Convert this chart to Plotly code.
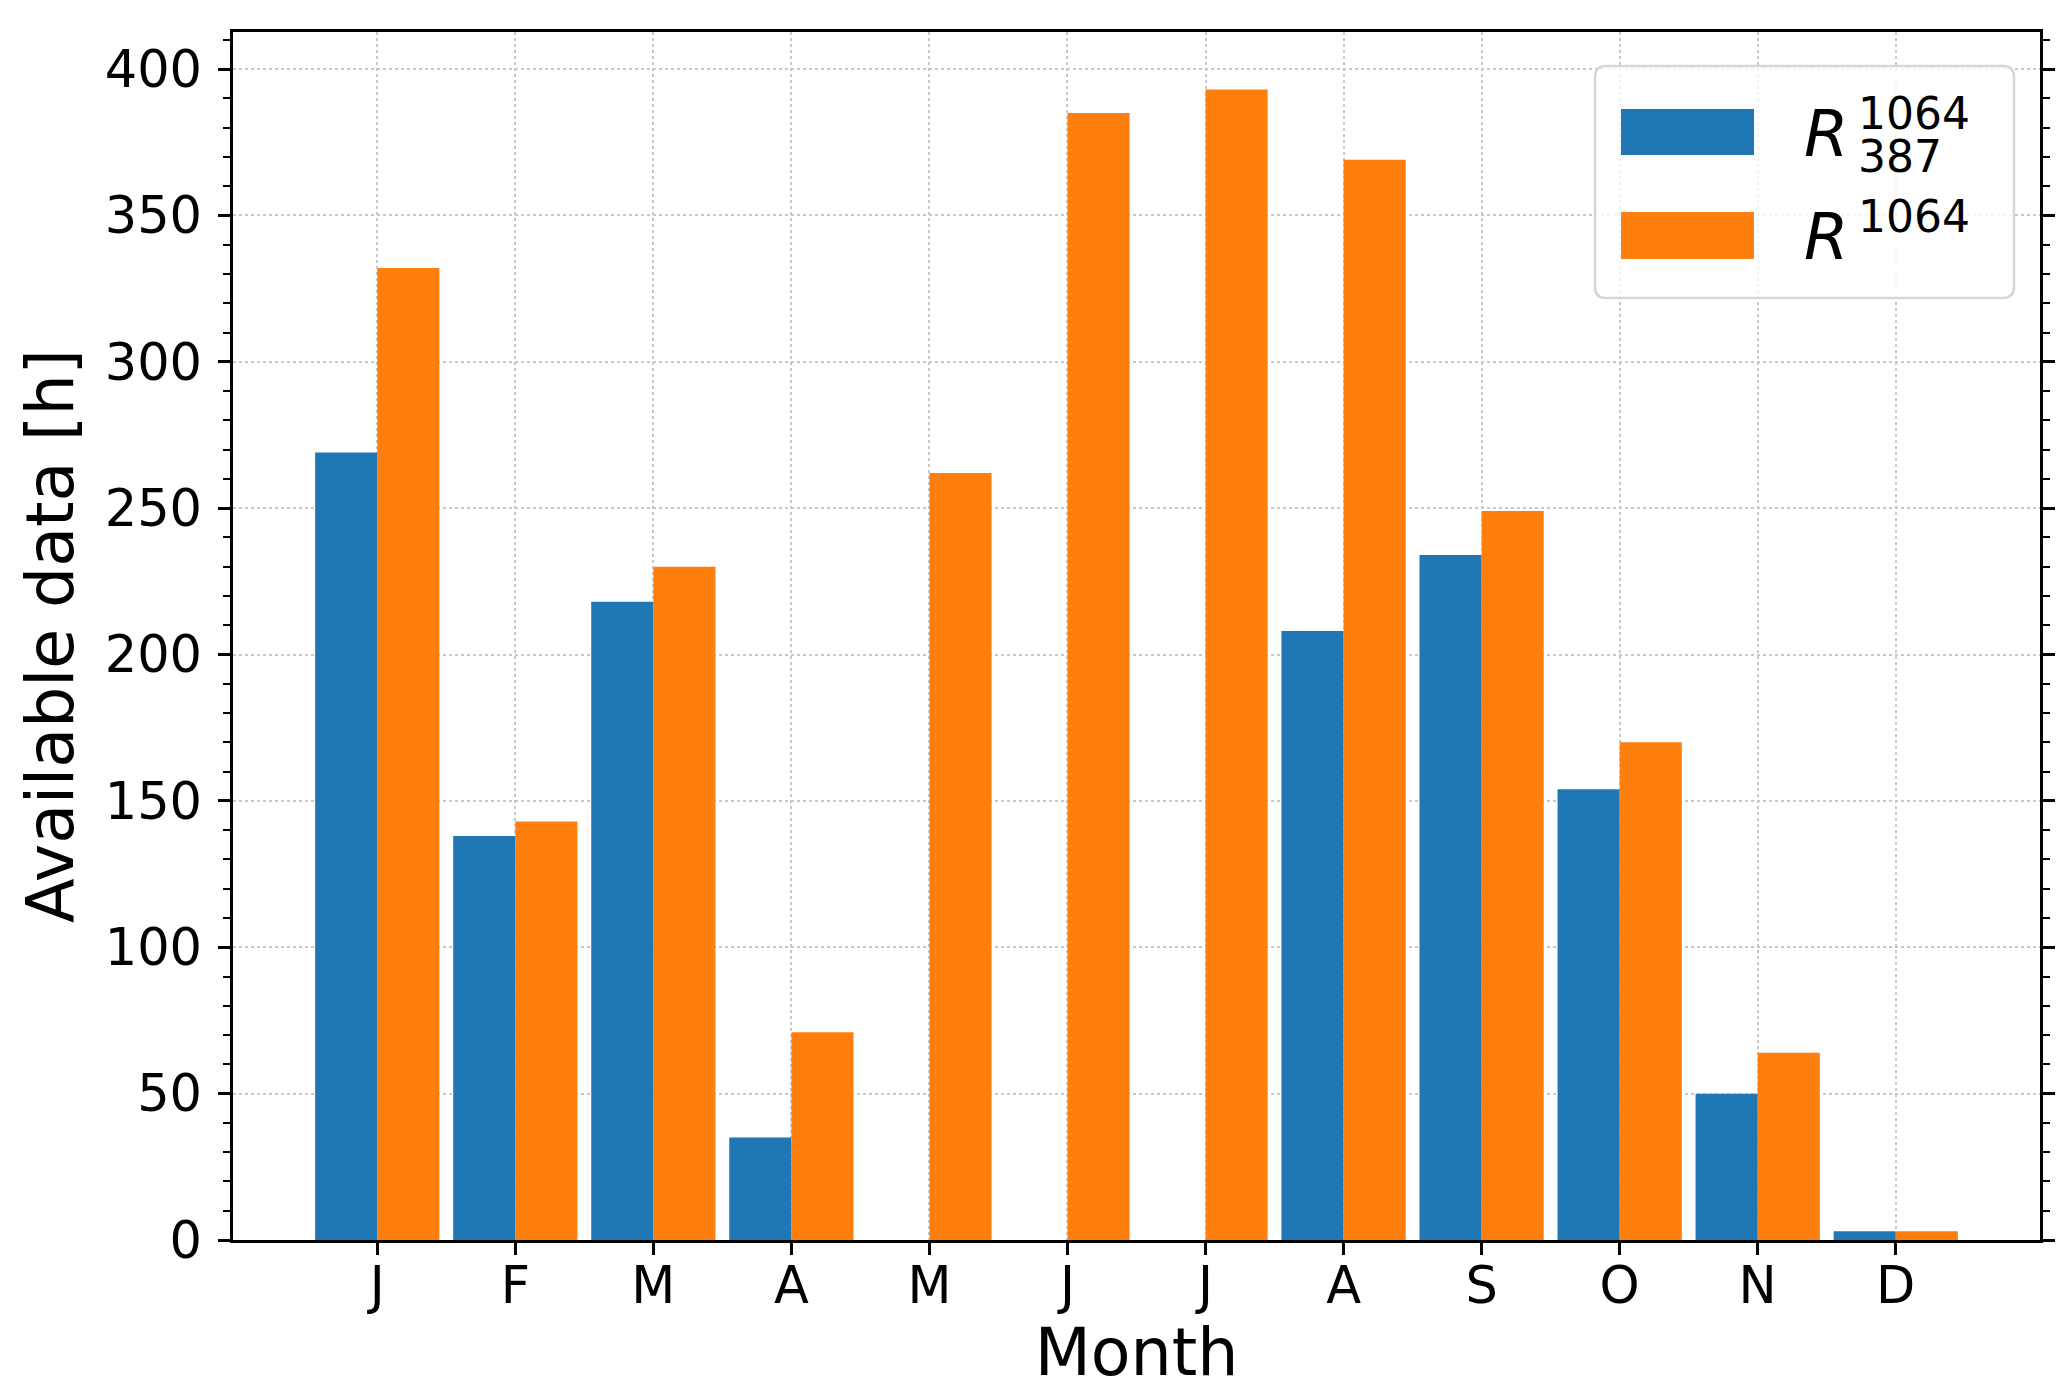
import plotly.graph_objects as go

months = ["J", "F", "M", "A", "M", "J", "J", "A", "S", "O", "N", "D"]
r387_1064 = [269, 138, 218, 35, 0, 0, 0, 208, 234, 154, 50, 3]
r1064 = [332, 143, 230, 71, 262, 385, 393, 369, 249, 170, 64, 3]
yticks = [0, 50, 100, 150, 200, 250, 300, 350, 400]

BLUE = "#1f77b4"
ORANGE = "#ff7f0e"
FONT = "DejaVu Sans"

W, H = 2067, 1395
L, R, T, B = 225, 35, 24, 163
PW, PH = W - L - R, H - T - B


def px(x):
    return (x - L) / PW


def py(y):
    return (H - B - y) / PH


xpos = list(range(len(months)))

fig = go.Figure()
fig.add_trace(go.Bar(x=xpos, y=r387_1064, marker=dict(color=BLUE, line=dict(width=0)),
                     name="R_387^1064", showlegend=False))
fig.add_trace(go.Bar(x=xpos, y=r1064, marker=dict(color=ORANGE, line=dict(width=0)),
                     name="R^1064", showlegend=False))

w = 0.45
n = len(months)
span = (n - 1) + 2 * w
xr = [-w - 0.05 * span, (n - 1) + w + 0.05 * span]
ymax = max(max(r1064), max(r387_1064)) * 1.05

fig.update_layout(
    width=W, height=H,
    margin=dict(l=L, r=R, t=T, b=B, autoexpand=False),
    paper_bgcolor="white", plot_bgcolor="white",
    barmode="group", bargap=0.1, bargroupgap=0,
    font=dict(family=FONT, color="black", size=51),
)

fig.update_xaxes(
    range=xr, tickmode="array", tickvals=xpos, ticktext=months,
    ticks="outside", ticklen=12, tickwidth=2.5, tickcolor="black",
    showline=True, linecolor="black", linewidth=2.5, mirror=True,
    showgrid=True, gridcolor="#c8c8c8", griddash="dot", gridwidth=1.5,
    zeroline=False, tickfont=dict(size=51, family=FONT),
    ticklabelstandoff=-13,
    title=dict(text="Month", font=dict(size=65, family=FONT), standoff=14),
)
fig.update_yaxes(
    range=[0, ymax], tickmode="array", tickvals=yticks,
    ticks="outside", ticklen=12, tickwidth=2.5, tickcolor="black",
    minor=dict(dtick=10, ticklen=7, tickwidth=2, tickcolor="black", ticks="outside", showgrid=False),
    showline=True, linecolor="black", linewidth=2.5, mirror="ticks",
    showgrid=True, gridcolor="#c8c8c8", griddash="dot", gridwidth=1.5,
    zeroline=False, tickfont=dict(size=51, family=FONT),
    ticklabelstandoff=6,
    title=dict(text="Available data [h]", font=dict(size=65, family=FONT), standoff=10),
)

# custom legend (matplotlib-like, with stacked super/subscript)
x0, x1, y0, y1 = 1587, 2006, 58, 290
rad = 11
rx, ry = rad / PW, rad / PH
X0, X1, Y0, Y1 = px(x0), px(x1), py(y1), py(y0)
path = (f"M {X0+rx},{Y1} L {X1-rx},{Y1} Q {X1},{Y1} {X1},{Y1-ry} "
        f"L {X1},{Y0+ry} Q {X1},{Y0} {X1-rx},{Y0} L {X0+rx},{Y0} "
        f"Q {X0},{Y0} {X0},{Y0+ry} L {X0},{Y1-ry} Q {X0},{Y1} {X0+rx},{Y1} Z")
fig.add_shape(type="path", path=path, xref="paper", yref="paper",
              fillcolor="rgba(255,255,255,0.8)", line=dict(color="#d6d6d6", width=2.5))
fig.add_shape(type="rect", xref="paper", yref="paper", x0=px(1613), x1=px(1746), y0=py(147), y1=py(101),
              fillcolor=BLUE, line=dict(width=0))
fig.add_shape(type="rect", xref="paper", yref="paper", x0=px(1613), x1=px(1746), y0=py(251), y1=py(204),
              fillcolor=ORANGE, line=dict(width=0))


def ann(text, x, y, size, h=None):
    fig.add_annotation(text=text, xref="paper", yref="paper", x=px(x), y=py(y),
                       xanchor="left", yanchor="middle", showarrow=False, height=h,
                       font=dict(family=FONT, size=size, color="black"), borderpad=0)


ann("<i>R</i>", 1795, 126, 64)
ann("1064", 1849, 105, 44, 42)
ann("387", 1849, 148, 44, 42)
ann("<i>R</i>", 1795, 229, 64)
ann("1064", 1849, 208, 44, 42)

fig.write_html("out.html")
